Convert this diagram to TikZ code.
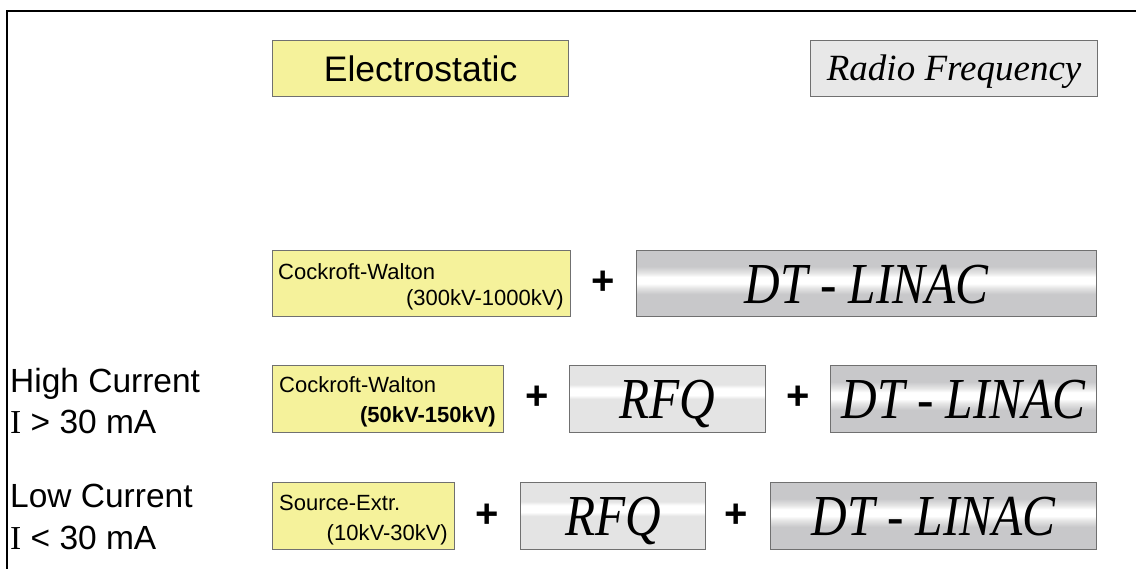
\documentclass[tikz,border=0pt]{standalone}
\usepackage{fontspec}
\usepackage{graphicx}
\setmainfont{Liberation Sans}
\newfontfamily\timesf{Liberation Serif}
\definecolor{yel}{RGB}{245,242,155}
\definecolor{rfg}{RGB}{232,232,232}
\definecolor{dtg}{RGB}{200,200,202}
\definecolor{dtl}{RGB}{230,230,230}
\definecolor{rqg}{RGB}{228,228,228}
\definecolor{edge}{RGB}{112,112,112}
\pgfdeclareverticalshading{dtshade}{100bp}{color(0bp)=(dtg); color(42bp)=(dtg); color(47bp)=(dtl); color(50bp)=(white); color(55bp)=(white); color(58bp)=(dtl); color(63bp)=(dtg); color(100bp)=(dtg)}
\pgfdeclareverticalshading{rfqshade}{100bp}{color(0bp)=(rqg); color(50bp)=(rqg); color(53bp)=(white); color(58bp)=(white); color(61bp)=(rqg); color(100bp)=(rqg)}
\begin{document}
\begin{tikzpicture}[x=1pt,y=-1pt,
  boxbase/.style={draw=edge, line width=1.2pt, inner sep=0pt, anchor=north west},
  ybox/.style={boxbase, fill=yel},
  gbox/.style={boxbase, fill=rfg},
  dtbox/.style={boxbase, shading=dtshade},
  rfqbox/.style={boxbase, shading=rfqshade},
  small/.style={font=\fontsize{22}{24}\selectfont, inner sep=0pt},
  head/.style={font=\fontsize{35.5}{40}\selectfont, inner sep=0pt},
  big/.style={font=\timesf\itshape\fontsize{58}{60}\selectfont, inner sep=0pt, anchor=base},
  plus/.style={font=\bfseries\fontsize{40}{42}\selectfont, inner sep=0pt},
  side/.style={font=\fontsize{33.5}{35}\selectfont, inner sep=0pt, anchor=base west}]
\useasboundingbox (0,0) rectangle (1136,569);
\fill[white] (0,0) rectangle (1136,569);
\draw[line width=1.6pt] (7,569) -- (7,11) -- (1136,11);

% header boxes
\node[ybox, minimum width=296pt, minimum height=56pt] (es) at (272,40) {};
\node[head] at (es.center) {Electrostatic};
\node[gbox, minimum width=287pt, minimum height=56pt] (rf) at (810,40) {};
\node[head, font=\timesf\itshape\fontsize{37}{40}\selectfont, anchor=base] at ([yshift=-12pt]rf.center) {Radio Frequency};

% row 1
\node[ybox, minimum width=298pt, minimum height=66pt] (cw1) at (272,250) {};
\node[small, anchor=base west] at (278,280) {Cockroft-Walton};
\node[small, anchor=base east] at (564,306) {(300kV-1000kV)};
\node[plus] (p1) at (603,283) {+};
\node[dtbox, minimum width=460pt, minimum height=66pt] (dt1) at (636,250) {};
\node[big] at ([yshift=-20pt]dt1.center) {\scalebox{0.85}[1]{DT - LINAC}};

% row 2
\node[side] (hc) at (10,392) {High Current};
\node[side] (hi) at (10,434) {{\timesf I} > 30 mA};
\node[ybox, minimum width=231pt, minimum height=67pt] (cw2) at (272,365) {};
\node[small, anchor=base west] at (279,393) {Cockroft-Walton};
\node[small, anchor=base east, font=\bfseries\fontsize{22}{24}\selectfont] at (496,423) {(50kV-150kV)};
\node[plus] (p2) at (537,398) {+};
\node[rfqbox, minimum width=196pt, minimum height=67pt] (rfq2) at (569,365) {};
\node[big] at ([yshift=-19pt]rfq2.center) {\scalebox{0.85}[1]{RFQ}};
\node[plus] (p3) at (798,398) {+};
\node[dtbox, minimum width=266pt, minimum height=67pt] (dt2) at (830,365) {};
\node[big] at ([yshift=-19pt]dt2.center) {\scalebox{0.85}[1]{DT - LINAC}};

% row 3
\node[side] (lc) at (10,507) {Low Current};
\node[side] (li) at (10,549) {{\timesf I} < 30 mA};
\node[ybox, minimum width=182pt, minimum height=67pt] (se3) at (272,482) {};
\node[small, anchor=base west] at (279,510) {Source-Extr.};
\node[small, anchor=base east] at (448,540) {(10kV-30kV)};
\node[plus] (p4) at (487,516) {+};
\node[rfqbox, minimum width=185pt, minimum height=67pt] (rfq3) at (520,482) {};
\node[big] at ([yshift=-19pt]rfq3.center) {\scalebox{0.85}[1]{RFQ}};
\node[plus] (p5) at (736,516) {+};
\node[dtbox, minimum width=326pt, minimum height=67pt] (dt3) at (770,482) {};
\node[big] at ([yshift=-19pt]dt3.center) {\scalebox{0.85}[1]{DT - LINAC}};
\end{tikzpicture}
\end{document}
